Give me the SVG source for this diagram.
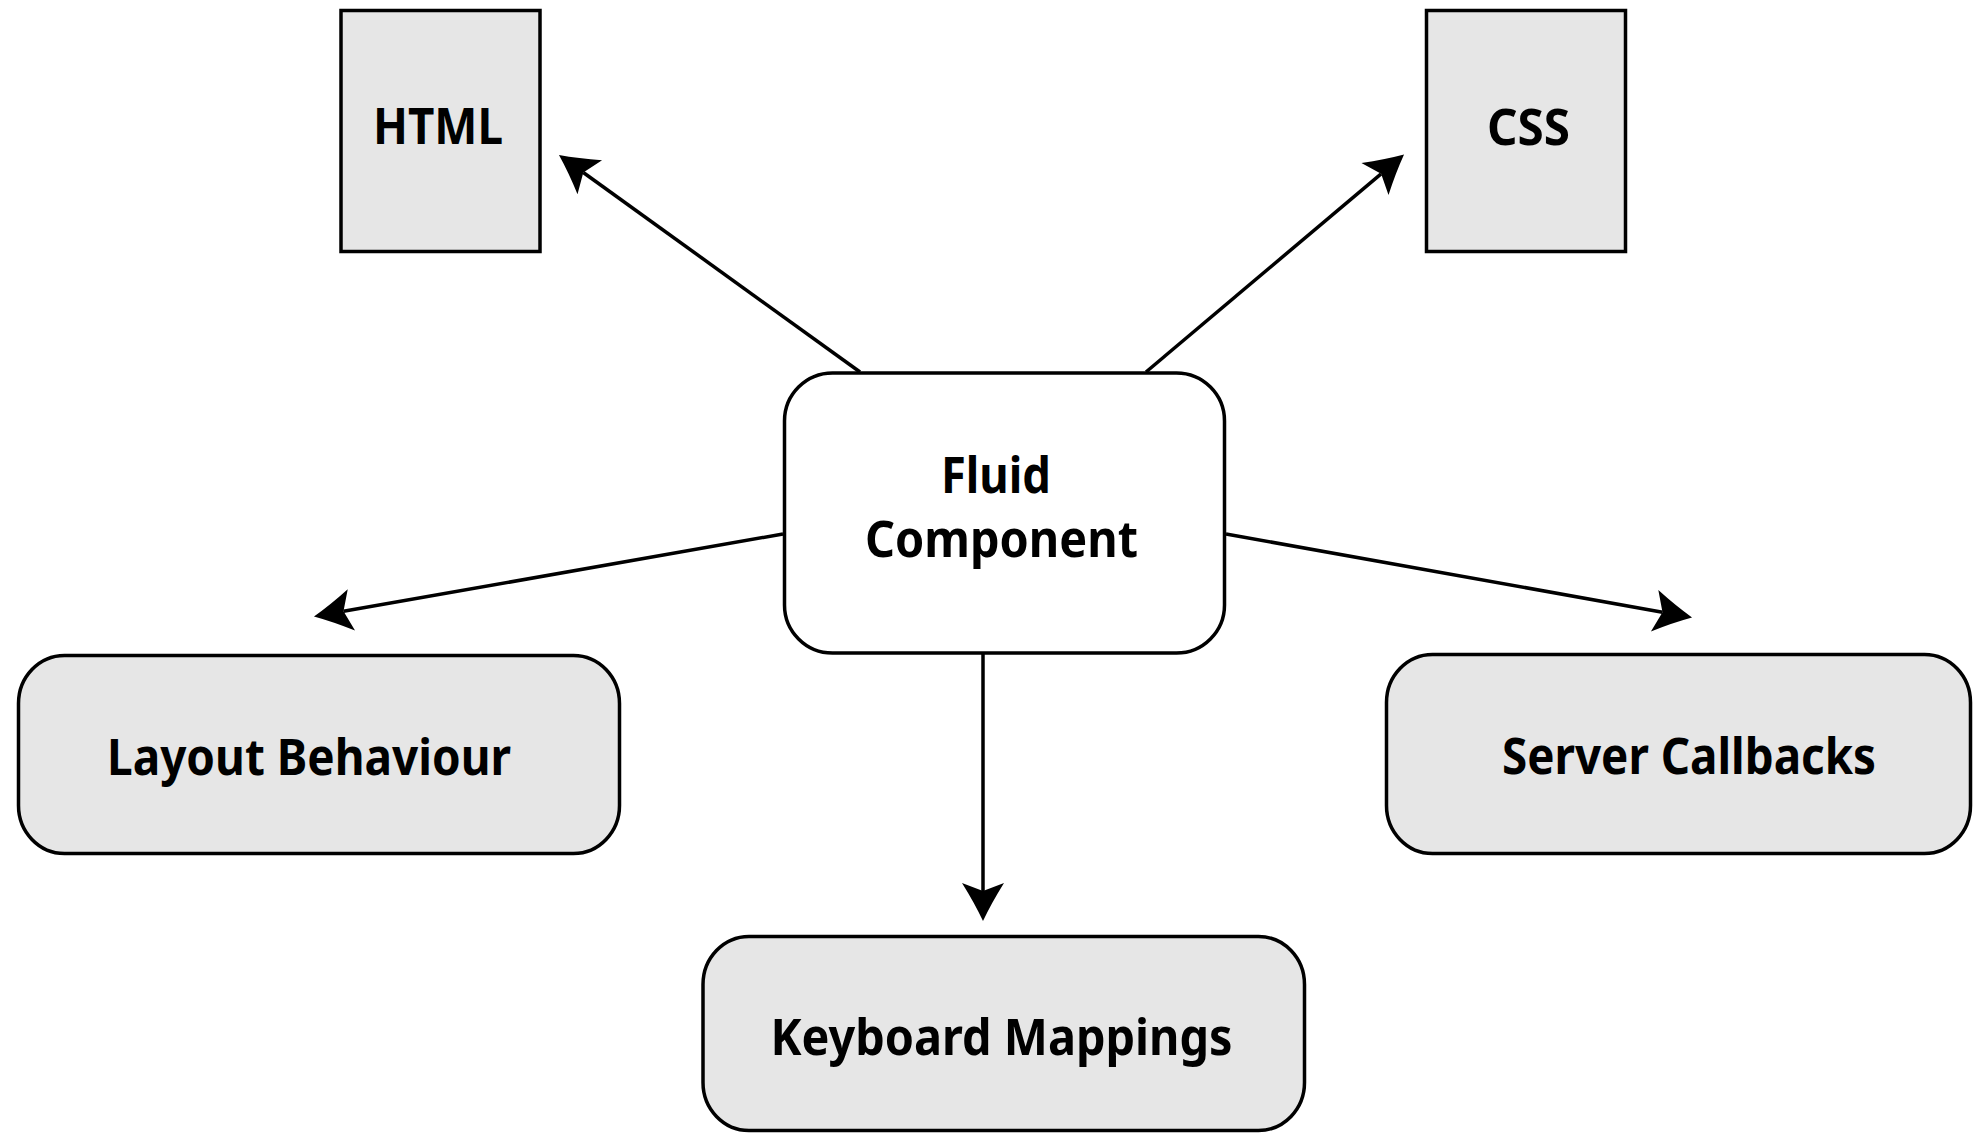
<svg xmlns="http://www.w3.org/2000/svg" width="1973" height="1133" viewBox="0 0 1973 1133">
  <style>
    .box { fill: #e6e6e6; stroke: #000; stroke-width: 3.5; }
    .main { fill: #ffffff; stroke: #000; stroke-width: 3.5; }
    .lbl { font-family: "Noto Sans", "Open Sans", "Liberation Sans", sans-serif; font-weight: 700; font-size: 50px; fill: #000; }
    .conn { stroke: #000; stroke-width: 3.5; fill: none; }
  </style>
  <defs>
    <marker id="arrow" markerUnits="userSpaceOnUse" orient="auto" refX="0" refY="0" markerWidth="60" markerHeight="60" viewBox="-20 -30 60 60" overflow="visible">
      <path d="M30,0 Q12,-8.5 -8,-21 L0,0 L-8,21 Q12,8.5 30,0 Z" fill="#000"/>
    </marker>
  </defs>
  <rect width="1973" height="1133" fill="#ffffff"/>

  <g id="connectors">
    <line class="conn" x1="860" y1="372" x2="583.3" y2="172.5" marker-end="url(#arrow)"/>
    <line class="conn" x1="1146" y1="372" x2="1381.1" y2="173.8" marker-end="url(#arrow)"/>
    <line class="conn" x1="783" y1="534" x2="343.5" y2="611.3" marker-end="url(#arrow)"/>
    <line class="conn" x1="1226" y1="534" x2="1662.5" y2="612.2" marker-end="url(#arrow)"/>
    <line class="conn" x1="983" y1="654" x2="983" y2="891" marker-end="url(#arrow)"/>
  </g>

  <g id="html">
    <rect class="box" x="341" y="10.5" width="199" height="241"/>
    <text class="lbl" x="373" y="144" textLength="130" lengthAdjust="spacingAndGlyphs">HTML</text>
  </g>

  <g id="css">
    <rect class="box" x="1426.5" y="10.5" width="199" height="241"/>
    <text class="lbl" x="1487" y="144.5" textLength="83" lengthAdjust="spacingAndGlyphs">CSS</text>
  </g>

  <g id="fluid-component">
    <rect class="main" x="784.5" y="373" width="440" height="280" rx="48" ry="48"/>
    <text class="lbl" x="941" y="493" textLength="110" lengthAdjust="spacingAndGlyphs">Fluid</text>
    <text class="lbl" x="865" y="557" textLength="273" lengthAdjust="spacingAndGlyphs">Component</text>
  </g>

  <g id="layout-behaviour">
    <rect class="box" x="18.5" y="655.5" width="601" height="198" rx="46" ry="48"/>
    <text class="lbl" x="107" y="775" textLength="404" lengthAdjust="spacingAndGlyphs">Layout Behaviour</text>
  </g>

  <g id="server-callbacks">
    <rect class="box" x="1386.5" y="654.5" width="584" height="199" rx="46" ry="48"/>
    <text class="lbl" x="1502" y="774" textLength="374" lengthAdjust="spacingAndGlyphs">Server Callbacks</text>
  </g>

  <g id="keyboard-mappings">
    <rect class="box" x="703" y="936.5" width="601.5" height="194" rx="46" ry="48"/>
    <text class="lbl" x="770.5" y="1055" textLength="462" lengthAdjust="spacingAndGlyphs">Keyboard Mappings</text>
  </g>
</svg>
